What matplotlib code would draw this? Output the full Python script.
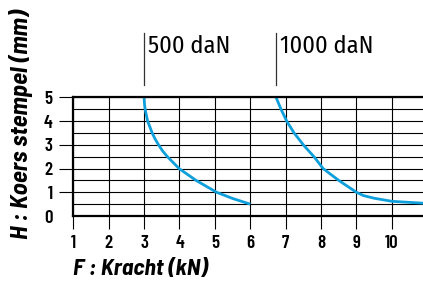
import matplotlib
matplotlib.use("Agg")
import matplotlib.pyplot as plt

# Stroke H (mm) versus force F (kN) for two press sizes
f_500 = [3.0, 3.01, 3.03, 3.1, 3.23, 3.31, 3.41, 3.52, 3.66, 3.99, 4.47, 5.05, 5.5, 6.0]
h_500 = [5.0, 4.75, 4.5, 4.0, 3.5, 3.25, 3.0, 2.75, 2.5, 2.0, 1.5, 1.0, 0.74, 0.5]
f_1000 = [6.73, 6.87, 7.03, 7.24, 7.5, 7.8, 8.06, 8.5, 8.8, 9.0, 9.2, 9.5, 10.0, 10.88]
h_1000 = [5.0, 4.5, 4.0, 3.5, 3.0, 2.5, 2.0, 1.5, 1.2, 1.0, 0.86, 0.75, 0.62, 0.54]
x_ticks = [1, 2, 3, 4, 5, 6, 7, 8, 9, 10]
y_ticks = [0, 1, 2, 3, 4, 5]
labels = ["500 daN", "1000 daN"]

cond = ["Barlow Condensed", "DejaVu Sans"]
semi = ["Barlow Semi Condensed", "DejaVu Sans"]
thin = ["Fira Sans Condensed", "DejaVu Sans"]
plt.rcParams["font.family"] = cond

fig = plt.figure(figsize=(4.23, 2.85), dpi=100)
ax = fig.add_axes([0.1733, 0.2421, 0.8267, 0.4158])

blue = "#0fa0dc"
ax.plot(f_500, h_500, color=blue, lw=2.0, solid_capstyle="butt", solid_joinstyle="round")
ax.plot(f_1000, h_1000, color=blue, lw=2.0, solid_capstyle="butt", solid_joinstyle="round")

ax.set_xlim(1, 10.88)
ax.set_ylim(0, 5)
for x in x_ticks:
    ax.axvline(x, color="black", lw=0.8, zorder=0)
for i in range(11):
    ax.axhline(i * 0.5, color="black", lw=0.8, zorder=0)

ax.spines["right"].set_visible(False)
for s in ["left", "top", "bottom"]:
    ax.spines[s].set_linewidth(1.6)

ax.set_xticks(x_ticks)
ax.set_yticks(y_ticks)
ax.tick_params(axis="x", length=9, width=0.8, pad=5, labelsize=13.5)
ax.tick_params(axis="y", length=10, width=0.8, pad=5, labelsize=13.5)
for lab in ax.get_xticklabels() + ax.get_yticklabels():
    lab.set_fontweight("semibold")
ax.yaxis.get_major_ticks()[0].tick1line.set_visible(False)

ax.set_xlabel("F : Kracht (kN)", fontsize=17, fontweight="bold", style="italic",
              loc="left", labelpad=5, family=semi)
ax.set_ylabel("H : Koers stempel (mm)", fontsize=18, fontweight="bold",
              style="italic", family=semi)
ax.yaxis.set_label_coords(-0.115, 0.776)

# marker lines and labels above the plot
for f0, lab in zip([f_500[0], f_1000[0]], labels):
    ax.plot([f0, f0], [5.53, 7.72], color="#333333", lw=0.9, clip_on=False)
    ax.text(f0 + 0.12, 7.15, lab, fontsize=17.5, va="center", ha="left",
            family=thin)

fig.savefig("out.png", dpi=100)
